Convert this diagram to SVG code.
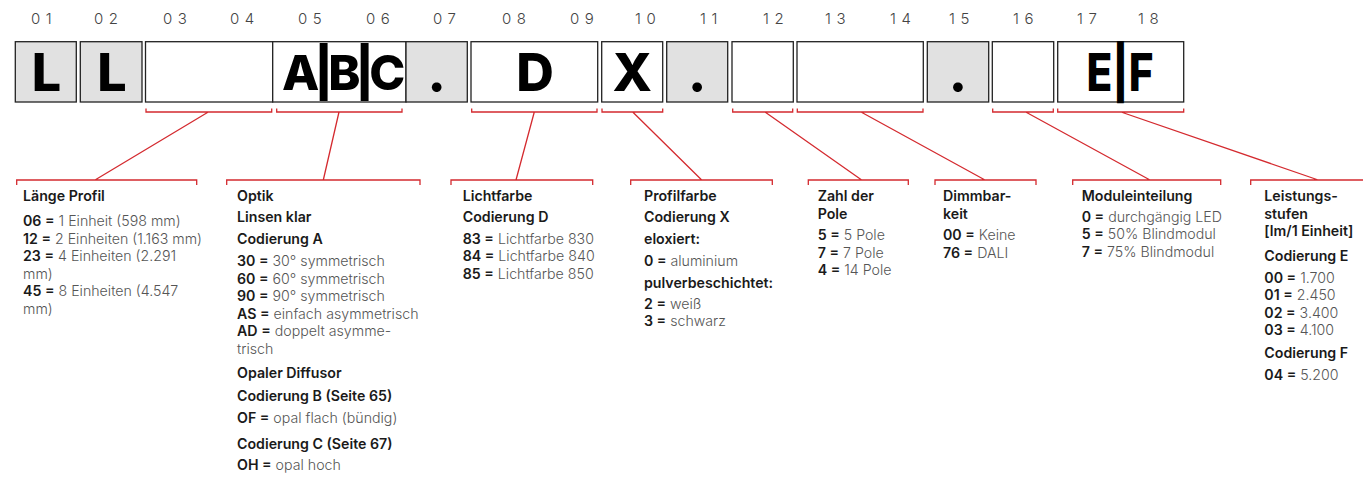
<svg xmlns="http://www.w3.org/2000/svg" width="1363" height="477" viewBox="0 0 1363 477">
<style>
.num{font-family:Inter,"Noto Sans",sans-serif;font-size:15px;font-weight:300;fill:#444;letter-spacing:5.5px}
.box{stroke:#222;stroke-width:1.3}
.g{fill:#e1e1e1}
.w{fill:#fff}
.big{font-family:Inter,"Liberation Sans",sans-serif;font-size:52px;font-weight:800;fill:#000;text-anchor:middle}
.bs{text-anchor:start}
.abc{font-size:48.5px;letter-spacing:-5px}
.br{fill:none;stroke:#d42a2f;stroke-width:1.3}
.h{font-family:Inter,"Noto Sans",sans-serif;font-size:14.2px;font-weight:600;fill:#1a1a1a}
.v{font-family:Inter,"Noto Sans",sans-serif;font-size:14.2px;font-weight:300;fill:#555}
.k{font-weight:600;fill:#1a1a1a}
</style>

<g id="positions">
<text class="num" x="31" y="24">01</text>
<text class="num" x="94" y="24">02</text>
<text class="num" x="163" y="24">03</text>
<text class="num" x="230" y="24">04</text>
<text class="num" x="298" y="24">05</text>
<text class="num" x="366" y="24">06</text>
<text class="num" x="433" y="24">07</text>
<text class="num" x="502" y="24">08</text>
<text class="num" x="570" y="24">09</text>
<text class="num" x="635" y="24">10</text>
<text class="num" x="700" y="24">11</text>
<text class="num" x="763" y="24">12</text>
<text class="num" x="825" y="24">13</text>
<text class="num" x="890" y="24">14</text>
<text class="num" x="949" y="24">15</text>
<text class="num" x="1013" y="24">16</text>
<text class="num" x="1077" y="24">17</text>
<text class="num" x="1138" y="24">18</text>
</g>

<g id="box-L1"><rect class="box g" x="15.3" y="41.7" width="61" height="60.3"/><text class="big" x="46.5" y="90.7">L</text></g>
<g id="box-L2"><rect class="box g" x="80.3" y="41.7" width="61.7" height="60.3"/><text class="big" x="112" y="90.7">L</text></g>
<g id="box-0304"><rect class="box w" x="145.5" y="41.7" width="127.2" height="60.3"/></g>
<g id="box-ABC"><rect class="box w" x="272.7" y="41.7" width="133.3" height="60.3"/><text class="big bs abc" x="282" y="90.2">A|B|C</text></g>
<g id="box-dot1"><rect class="box g" x="406" y="41.7" width="61.3" height="60.3"/><text class="big" x="436.7" y="90.7">.</text></g>
<g id="box-D"><rect class="box w" x="471" y="41.7" width="126.7" height="60.3"/><text class="big" x="535" y="90.7">D</text></g>
<g id="box-X"><rect class="box w" x="601.7" y="41.7" width="61" height="60.3"/><text class="big" x="632.2" y="90.7">X</text></g>
<g id="box-dot2"><rect class="box g" x="666.7" y="41.7" width="61" height="60.3"/><text class="big" x="697.2" y="90.7">.</text></g>
<g id="box-12"><rect class="box w" x="732" y="41.7" width="61.3" height="60.3"/></g>
<g id="box-1314"><rect class="box w" x="797" y="41.7" width="126.3" height="60.3"/></g>
<g id="box-dot3"><rect class="box g" x="927.3" y="41.7" width="61.4" height="60.3"/><text class="big" x="958" y="90.7">.</text></g>
<g id="box-16"><rect class="box w" x="992.3" y="41.7" width="61.4" height="60.3"/></g>
<g id="box-EF"><rect class="box w" x="1057.7" y="41.7" width="126" height="60.3"/><text class="big bs" x="1086.5" y="90.7" textLength="67" lengthAdjust="spacingAndGlyphs">E|F</text></g>

<g id="connectors">
<path class="br" d="M146 108.5V112H271.7V108.5 M208.3 112L95 180 M16.7 185V180H196.7V185"/>
<path class="br" d="M276.7 108.5V112H402V108.5 M339 112L323.3 180 M226.7 185V180H420V185"/>
<path class="br" d="M471.7 108.5V112H597V108.5 M534.3 112L516 180 M451 185V180H592.7V185"/>
<path class="br" d="M602 108.5V112H662.7V108.5 M632.7 112L701.7 180 M630.7 185V180H772.3V185"/>
<path class="br" d="M732.7 108.5V112H792.7V108.5 M765 112L861.7 180 M808.3 185V180H908.3V185"/>
<path class="br" d="M797.3 108.5V112H923V108.5 M861 112L985 180 M935 185V180H1036V185"/>
<path class="br" d="M992.7 108.5V112H1053.3V108.5 M1025.7 112L1150 180 M1072.7 185V180H1220.7V185"/>
<path class="br" d="M1057.7 108.5V112H1183.7V108.5 M1121 112L1318.3 180 M1250.7 185V180H1370"/>
</g>

<g id="info-laenge">
<text class="h" x="23" y="201">Länge Profil</text>
<text class="v" x="23" y="226"><tspan class="k">06 =</tspan> 1 Einheit (598 mm)</text>
<text class="v" x="23" y="243.5"><tspan class="k">12 =</tspan> 2 Einheiten (1.163 mm)</text>
<text class="v" x="23" y="261"><tspan class="k">23 =</tspan> 4 Einheiten (2.291</text>
<text class="v" x="23" y="278.5">mm)</text>
<text class="v" x="23" y="296"><tspan class="k">45 =</tspan> 8 Einheiten (4.547</text>
<text class="v" x="23" y="313.5">mm)</text>
</g>

<g id="info-optik">
<text class="h" x="237" y="201">Optik</text>
<text class="h" x="237" y="221.5">Linsen klar</text>
<text class="h" x="237" y="244">Codierung A</text>
<text class="v" x="237" y="266"><tspan class="k">30 =</tspan> 30° symmetrisch</text>
<text class="v" x="237" y="283.5"><tspan class="k">60 =</tspan> 60° symmetrisch</text>
<text class="v" x="237" y="301"><tspan class="k">90 =</tspan> 90° symmetrisch</text>
<text class="v" x="237" y="318.5"><tspan class="k">AS =</tspan> einfach asymmetrisch</text>
<text class="v" x="237" y="336"><tspan class="k">AD =</tspan> doppelt asymme-</text>
<text class="v" x="237" y="353.5">trisch</text>
<text class="h" x="237" y="378">Opaler Diffusor</text>
<text class="h" x="237" y="401">Codierung B (Seite 65)</text>
<text class="v" x="237" y="422.5"><tspan class="k">OF =</tspan> opal flach (bündig)</text>
<text class="h" x="237" y="449">Codierung C (Seite 67)</text>
<text class="v" x="237" y="470"><tspan class="k">OH =</tspan> opal hoch</text>
</g>

<g id="info-lichtfarbe">
<text class="h" x="462.7" y="201">Lichtfarbe</text>
<text class="h" x="462.7" y="221.5">Codierung D</text>
<text class="v" x="462.7" y="243.5"><tspan class="k">83 =</tspan> Lichtfarbe 830</text>
<text class="v" x="462.7" y="261"><tspan class="k">84 =</tspan> Lichtfarbe 840</text>
<text class="v" x="462.7" y="278.5"><tspan class="k">85 =</tspan> Lichtfarbe 850</text>
</g>

<g id="info-profilfarbe">
<text class="h" x="644" y="201">Profilfarbe</text>
<text class="h" x="644" y="221.5">Codierung X</text>
<text class="h" x="644" y="244">eloxiert:</text>
<text class="v" x="644" y="266"><tspan class="k">0 =</tspan> aluminium</text>
<text class="h" x="644" y="287.7">pulverbeschichtet:</text>
<text class="v" x="644" y="308.5"><tspan class="k">2 =</tspan> weiß</text>
<text class="v" x="644" y="326"><tspan class="k">3 =</tspan> schwarz</text>
</g>

<g id="info-pole">
<text class="h" x="817.7" y="201">Zahl der</text>
<text class="h" x="817.7" y="218.5">Pole</text>
<text class="v" x="817.7" y="240"><tspan class="k">5 =</tspan> 5 Pole</text>
<text class="v" x="817.7" y="257.5"><tspan class="k">7 =</tspan> 7 Pole</text>
<text class="v" x="817.7" y="275"><tspan class="k">4 =</tspan> 14 Pole</text>
</g>

<g id="info-dimm">
<text class="h" x="943" y="201">Dimmbar-</text>
<text class="h" x="943" y="218.5">keit</text>
<text class="v" x="943" y="240"><tspan class="k">00 =</tspan> Keine</text>
<text class="v" x="943" y="257.5"><tspan class="k">76 =</tspan> DALI</text>
</g>

<g id="info-module">
<text class="h" x="1081.7" y="201">Moduleinteilung</text>
<text class="v" x="1081.7" y="221.5"><tspan class="k">0 =</tspan> durchgängig LED</text>
<text class="v" x="1081.7" y="239"><tspan class="k">5 =</tspan> 50% Blindmodul</text>
<text class="v" x="1081.7" y="256.5"><tspan class="k">7 =</tspan> 75% Blindmodul</text>
</g>

<g id="info-leistung">
<text class="h" x="1264.3" y="201">Leistungs-</text>
<text class="h" x="1264.3" y="218.5">stufen</text>
<text class="h" x="1264.3" y="236">[lm/1 Einheit]</text>
<text class="h" x="1264.3" y="261">Codierung E</text>
<text class="v" x="1264.3" y="282.5"><tspan class="k">00 =</tspan> 1.700</text>
<text class="v" x="1264.3" y="300"><tspan class="k">01 =</tspan> 2.450</text>
<text class="v" x="1264.3" y="317.5"><tspan class="k">02 =</tspan> 3.400</text>
<text class="v" x="1264.3" y="335"><tspan class="k">03 =</tspan> 4.100</text>
<text class="h" x="1264.3" y="358">Codierung F</text>
<text class="v" x="1264.3" y="380"><tspan class="k">04 =</tspan> 5.200</text>
</g>
</svg>
